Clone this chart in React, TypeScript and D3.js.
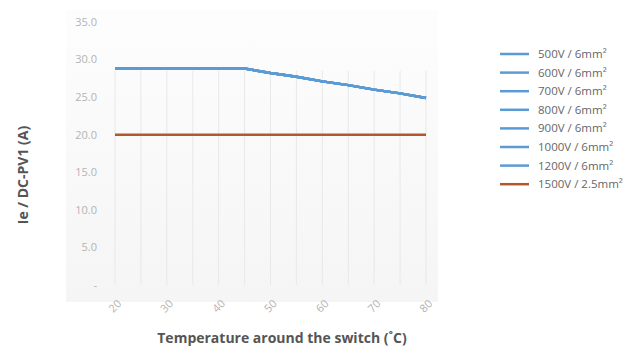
import React from "react";
import * as d3 from "d3";

const temps = [20, 25, 30, 35, 40, 45, 50, 55, 60, 65, 70, 75, 80];
const blueValues = [28.8, 28.8, 28.8, 28.8, 28.8, 28.8, 28.2, 27.7, 27.1, 26.6, 26.0, 25.5, 24.9];
const orangeValues = [20, 20, 20, 20, 20, 20, 20, 20, 20, 20, 20, 20, 20];
const seriesNames = [
  "500V / 6mm²",
  "600V / 6mm²",
  "700V / 6mm²",
  "800V / 6mm²",
  "900V / 6mm²",
  "1000V / 6mm²",
  "1200V / 6mm²",
  "1500V / 2.5mm²",
];
const seriesColors = ["#5b9bd5", "#5b9bd5", "#5b9bd5", "#5b9bd5", "#5b9bd5", "#5b9bd5", "#5b9bd5", "#b5572c"];
const seriesData = [blueValues, blueValues, blueValues, blueValues, blueValues, blueValues, blueValues, orangeValues];
const xTicks = [20, 30, 40, 50, 60, 70, 80];
const yTicks = [0, 5, 10, 15, 20, 25, 30, 35];

export default function App() {
  const W = 641, H = 350;
  const x = d3.scaleLinear().domain([20, 80]).range([115, 426]);
  const y = d3.scaleLinear().domain([0, 35]).range([285, 22]);
  const line = d3.line<number>().x((_, i) => x(temps[i])).y((d) => y(d));
  const font = "'Open Sans', 'DejaVu Sans', sans-serif";
  const gridX = d3.range(20, 81, 5);
  return (
    <svg width={W} height={H} style={{ position: "absolute", left: 0, top: 0 }}>
      <defs>
        <linearGradient id="bg" x1="0" y1="0" x2="0" y2="1">
          <stop offset="0" stopColor="#fdfdfd" />
          <stop offset="1" stopColor="#f5f5f5" />
        </linearGradient>
      </defs>
      <rect x={0} y={0} width={W} height={H} fill="#fff" />
      <rect x={66} y={10} width={372} height={292} fill="url(#bg)" />
      {gridX.map((t) => (
        <line key={t} x1={x(t)} x2={x(t)} y1={y(28.5)} y2={y(0)} stroke="#e8e8e8" strokeWidth={1} />
      ))}
      {yTicks.map((v) => (
        <text key={v} x={97} y={y(v)} dy="0.35em" textAnchor="end" fontSize={11} fill="#b4b4b4" fontFamily={font}>
          {v === 0 ? "-" : v.toFixed(1)}
        </text>
      ))}
      {xTicks.map((t) => (
        <text
          key={t}
          transform={`translate(${x(t)},${306}) rotate(-45)`}
          textAnchor="middle"
          dy="0.35em"
          fontSize={11}
          fill="#b4b4b4"
          fontFamily={font}
        >
          {t}
        </text>
      ))}
      {seriesData.map((d, i) => (
        <path key={i} d={line(d) || ""} fill="none" stroke={seriesColors[i]} strokeWidth={2.5} opacity={i < 7 ? 0.9 : 1} />
      ))}
      <text
        transform={`translate(28,${175}) rotate(-90)`}
        textAnchor="middle"
        fontSize={14}
        fontWeight="bold"
        fill="#555"
        fontFamily={font}
      >
        Ie / DC-PV1 (A)
      </text>
      <text x={282} y={343} textAnchor="middle" fontSize={14} fontWeight="bold" fill="#555" fontFamily={font}>
        Temperature around the switch (˚C)
      </text>
      {seriesNames.map((n, i) => {
        const ly = 54 + i * 18.6;
        return (
          <g key={n}>
            <line x1={500} x2={529} y1={ly} y2={ly} stroke={seriesColors[i]} strokeWidth={2.5} />
            <text x={538} y={ly} dy="0.35em" fontSize={11.5} fill="#666" fontFamily={font}>
              {n}
            </text>
          </g>
        );
      })}
    </svg>
  );
}
